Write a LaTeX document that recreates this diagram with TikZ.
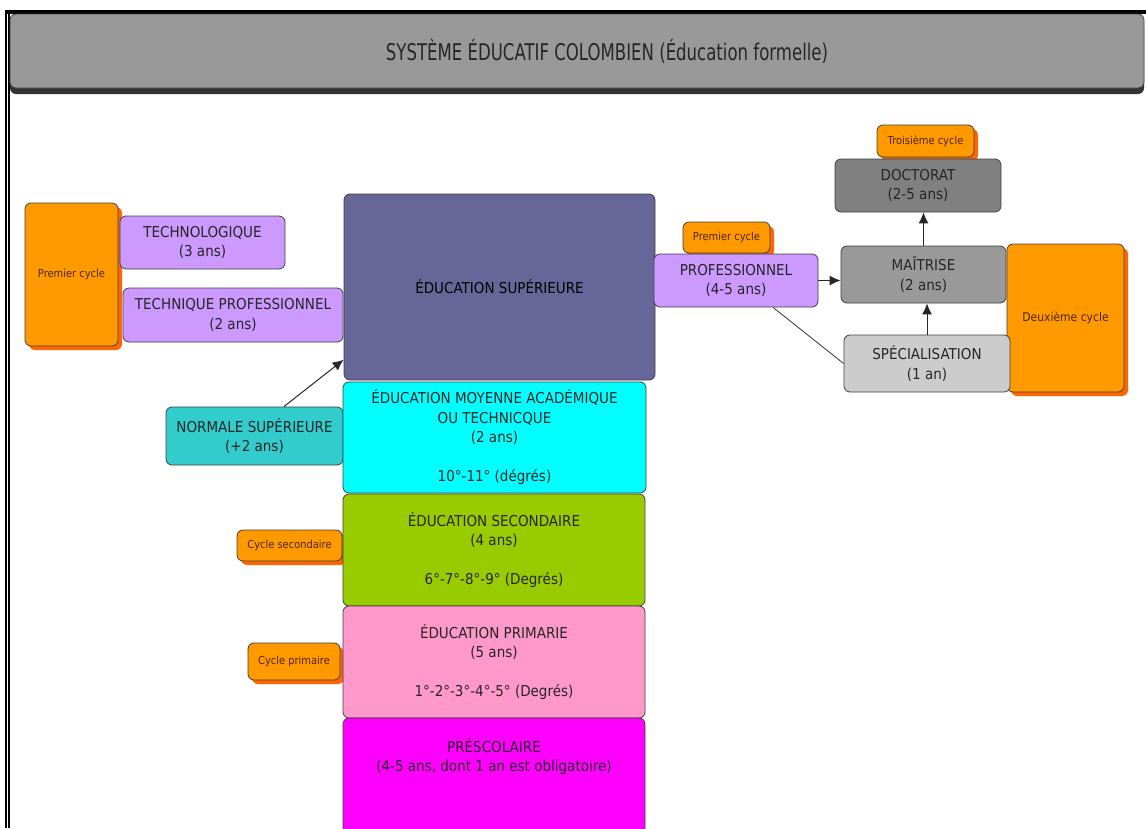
\documentclass[tikz,border=0pt]{standalone}
\usepackage{fontspec}
\setmainfont[FakeStretch=0.9]{DejaVu Sans}
\newfontfamily\titrefont[FakeStretch=0.72]{DejaVu Sans}
\usetikzlibrary{arrows.meta,shadows,calc}

\definecolor{gristitre}{HTML}{999999}
\definecolor{bleusup}{HTML}{666699}
\definecolor{cyanmoy}{HTML}{00FFFF}
\definecolor{vertsec}{HTML}{99CC00}
\definecolor{roseprim}{HTML}{FF99CC}
\definecolor{magpres}{HTML}{FF00FF}
\definecolor{lavande}{HTML}{CC99FF}
\definecolor{sarcelle}{HTML}{33CCCC}
\definecolor{orangecycle}{HTML}{FF9900}
\definecolor{ombreorange}{HTML}{FF6600}
\definecolor{brun}{HTML}{4D2600}
\definecolor{grisdoc}{HTML}{808080}
\definecolor{grismai}{HTML}{999999}
\definecolor{grisspe}{HTML}{CCCCCC}

\begin{document}
\begin{tikzpicture}[x=1pt, y=-1pt,
    boite/.style={draw=black!75, line width=0.8pt, rounded corners=6pt,
        align=center, inner sep=0pt, text=black!85,
        font=\fontsize{15}{19.5}\selectfont},
    taille/.style 2 args={minimum width=#1pt, minimum height=#2pt},
    cyclebox/.style={boite, fill=orangecycle, text=brun,
        font=\fontsize{11}{13}\selectfont,
        drop shadow={shadow xshift=4pt, shadow yshift=-4pt, fill=ombreorange, opacity=1}},
    fleche/.style={-{Latex[length=11pt,width=10pt]}, line width=1pt, black!85}]

    \useasboundingbox (0,0) rectangle (1146,828);

    % Cadre
    \fill (5,10) rectangle (1146,14);
    \fill (5,10) rectangle (7,828);
    \fill (8,14) rectangle (10,828);

    % Titre
    \node[boite, fill=gristitre, taille={1134}{74},
        drop shadow={shadow xshift=0pt, shadow yshift=-6pt, fill=black!80, opacity=1}]
        (titre) at (577,51) {};
    \node[font=\titrefont\fontsize{23}{26}\selectfont, text=black!85]
        (titretexte) at (607,51) {SYSTÈME ÉDUCATIF COLOMBIEN (Éducation formelle)};

    % Cycles (orange)
    \node[cyclebox, taille={93}{143}] (premier) at (71.5,274.5) {Premier cycle};
    \node[cyclebox, taille={105}{31}] (cycsec) at (289.5,545.5) {Cycle secondaire};
    \node[cyclebox, taille={92}{37}] (cycprim) at (294,661.5) {Cycle primaire};
    \node[cyclebox, taille={97}{32}] (troisieme) at (925.5,141) {Troisième cycle};
    \node[cyclebox, taille={87}{31}] (premierdeux) at (726.5,237.5) {Premier cycle};
    \node[cyclebox, taille={117}{148}, font=\fontsize{12}{14}\selectfont]
        (deuxieme) at (1065.5,318) {Deuxième cycle};

    % Education supérieure, à gauche
    \node[boite, fill=lavande, taille={165}{53}] (techno) at (202.5,242.5)
        {TECHNOLOGIQUE\\(3 ans)};
    \node[boite, fill=lavande, taille={220}{54}] (techpro) at (233,315)
        {TECHNIQUE PROFESSIONNEL\\(2 ans)};
    \node[boite, fill=sarcelle, taille={177}{58}] (normale) at (254.5,436)
        {NORMALE SUPÉRIEURE\\(+2 ans)};

    % Colonne centrale
    \node[boite, fill=bleusup, text=black, taille={311}{186}] (sup) at (499.5,287)
        {ÉDUCATION SUPÉRIEURE};
    \node[boite, fill=cyanmoy, taille={303}{111}] (moyenne) at (494.5,437.5)
        {ÉDUCATION MOYENNE ACADÉMIQUE\\OU TECHNICQUE\\(2 ans)\\[19.5pt]10°-11° (dégrés)};
    \node[boite, fill=vertsec, taille={302}{112}] (secondaire) at (494,550)
        {ÉDUCATION SECONDAIRE\\(4 ans)\\[19.5pt]6°-7°-8°-9° (Degrés)};
    \node[boite, fill=roseprim, taille={302}{112}] (primaire) at (494,662)
        {ÉDUCATION PRIMARIE\\(5 ans)\\[19.5pt]1°-2°-3°-4°-5° (Degrés)};
    \node[boite, fill=magpres, taille={302}{116}] (prescolaire) at (494,776) {};
    \node[align=center, text=black!85, font=\fontsize{15}{19.5}\selectfont]
        (prescotexte) at (494,756.5) {PRÉSCOLAIRE\\(4-5 ans, dont 1 an est obligatoire)};

    % Education supérieure, à droite
    \node[boite, fill=lavande, taille={164}{53}] (profess) at (736,280.5)
        {PROFESSIONNEL\\(4-5 ans)};
    \node[boite, fill=grisdoc, taille={166}{53}] (doctorat) at (918,185.5)
        {DOCTORAT\\(2-5 ans)};
    \node[boite, fill=grismai, taille={165}{57}] (maitrise) at (923.5,274.5)
        {MAÎTRISE\\(2 ans)};
    \node[boite, fill=grisspe, taille={166}{57}] (special) at (927,363.5)
        {SPÉCIALISATION\\(1 an)};

    % Liens
    \draw[fleche] (normale.45) -- (sup.205);
    \draw[fleche] (profess.east) -- (profess.east -| maitrise.west);
    \draw[fleche] (maitrise.north) -- (maitrise.north |- doctorat.south);
    \draw[fleche] (special.north) -- (special.north |- maitrise.south);
    \draw[line width=0.8pt, black!80] (profess.-36) -- (special.west);
\end{tikzpicture}
\end{document}
